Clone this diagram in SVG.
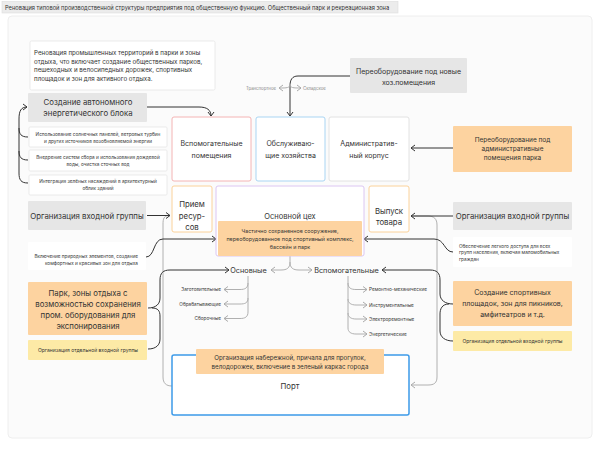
<svg xmlns="http://www.w3.org/2000/svg" width="600" height="452" viewBox="0 0 600 452">
<defs>
<marker id="ad" viewBox="0 0 6 8" refX="5" refY="4" markerWidth="6" markerHeight="8" orient="auto" markerUnits="userSpaceOnUse"><path d="M1,1 L5,4 L1,7" fill="none" stroke="#333" stroke-width="1"/></marker>
<marker id="ag" viewBox="0 0 6 8" refX="5" refY="4" markerWidth="6" markerHeight="8" orient="auto" markerUnits="userSpaceOnUse"><path d="M1,1 L5,4 L1,7" fill="none" stroke="#aaa" stroke-width="1"/></marker>
<style>
text{font-family:Inter,"Noto Sans",sans-serif;fill:#333}
.c{text-anchor:middle}
.e{text-anchor:end}
.gray{fill:#e6e6e6}
.wht{fill:#fff;stroke:#e6e6e6;stroke-width:0.8}
.org{fill:#fdd3a0}
.yel{fill:#fdeaa6}
.dk{fill:none;stroke:#333;stroke-width:1}
.gr{fill:none;stroke:#b0b0b0;stroke-width:1}
.s8{font-size:7.8px}
.s7{font-size:7px}
.s6{font-size:6.2px}
.s5{font-size:5px}
.s45{font-size:4.7px}
</style>
</defs>
<rect x="0" y="0" width="600" height="452" fill="#fff"/>
<rect x="8" y="16" width="584" height="422" rx="4" fill="#fbfbfb" stroke="#eeeeee" stroke-width="1"/>
<g id="title">
<rect x="2" y="1.5" width="396" height="11.5" fill="#ececec" stroke="#dddddd" stroke-width="0.6"/>
<text x="5" y="9.6" style="font-size:5.7px">Реновация типовой производственной структуры предприятия под общественную функцию. Общественный парк и рекреационная зона</text>
</g>

<g id="connectors">
<path class="dk" d="M28,183 C21,183 19,180 19,173 L19,119 C19,111 21,107 27,107" marker-end="url(#ad)"/>
<path class="dk" d="M28,137 C21,137 19,134 19,128"/>
<path class="dk" d="M28,160 C21,160 19,157 19,151"/>
<path class="dk" d="M147,107 L199,107 C207,107 211,110 211,116" marker-end="url(#ad)"/>
<path class="dk" d="M350,76 L298,76 C292,76 290,80 290,86 L290,116" marker-end="url(#ad)"/>
<path class="gr" d="M290,84 C290,88 287,88 279,88" marker-end="url(#ag)"/>
<path class="gr" d="M290,84 C290,88 293,88 301,88" marker-end="url(#ag)"/>
<path class="dk" d="M453,148 L411,148" marker-end="url(#ad)"/>
<path class="gr" d="M172,386 C166,386 163,383 163,377 L163,224 C163,219 164,216 168,215.5"/>
<path class="gr" d="M411,216 L428,216 C434,216 437,219 437,225 L437,377 C437,383 434,385 428,385 L411,385" marker-end="url(#ag)"/>
<path class="dk" d="M147,215.5 L170,215.5" marker-end="url(#ad)"/>
<path class="dk" d="M453,216 L411,216" marker-end="url(#ad)"/>
<path class="dk" d="M146,257 C155,257 153,239 163,239 L216,239" marker-end="url(#ad)"/>
<path class="dk" d="M453,252 C444,252 445,239 434,239 L364,239" marker-end="url(#ad)"/>
<path class="dk" d="M148,308 C156,308 160,304 160,298 L160,280 C160,273 163,270 170,270 L229,270" marker-end="url(#ad)"/>
<path class="dk" d="M148,349 C156,349 160,345 160,339 L160,316 C160,311 158,308 152,308"/>
<path class="dk" d="M453,304 C445,304 440,300 440,294 L440,280 C440,273 437,270 430,270 L382,270" marker-end="url(#ad)"/>
<path class="dk" d="M453,341 C445,341 440,337 440,331 L440,314 C440,309 442,304 449,304"/>
<path class="gr" d="M290,256 L290,262 C290,268 287,270 281,270 L271,270" marker-end="url(#ag)"/>
<path class="gr" d="M290,262 C290,268 293,270 299,270 L312,270" marker-end="url(#ag)"/>
<path class="gr" d="M248,276 L248,312 C248,317 245,318.5 240,318.5 L224,318.5" marker-end="url(#ag)"/>
<path class="gr" d="M248,283 C248,288 245,289.5 240,289.5 L224,289.5" marker-end="url(#ag)"/>
<path class="gr" d="M248,298 C248,303 245,304 240,304 L224,304" marker-end="url(#ag)"/>
<path class="gr" d="M348,276 L348,328 C348,332 351,334 356,334 L367,334" marker-end="url(#ag)"/>
<path class="gr" d="M348,283 C348,288 351,289.5 356,289.5 L367,289.5" marker-end="url(#ag)"/>
<path class="gr" d="M348,299 C348,303 351,305 356,305 L367,305" marker-end="url(#ag)"/>
<path class="gr" d="M348,313 C348,317 351,319 356,319 L367,319" marker-end="url(#ag)"/>
</g>

<g id="intro">
<rect class="wht" x="30" y="41" width="185" height="49" rx="1.5"/>
<text class="s6" x="34" y="55">Реновация промышленных территорий в парки и зоны</text>
<text class="s6" x="34" y="63.5">отдыха, что включает создание общественных парков,</text>
<text class="s6" x="34" y="72">пешеходных и велосипедных дорожек, спортивных</text>
<text class="s6" x="34" y="80.5">площадок и зон для активного отдыха.</text>
</g>
<g id="energy">
<rect class="gray" x="28" y="93" width="119" height="29" rx="1"/>
<text class="c s8" x="88" y="104.5">Создание автономного</text>
<text class="c s8" x="88" y="115.5">энергетического блока</text>
</g>
<g id="e1">
<rect class="wht" x="29" y="127" width="138" height="20" rx="1"/>
<text class="c s45" x="98" y="135.5">Использование солнечных панелей, ветровых турбин</text>
<text class="c s45" x="98" y="142.5">и других источников возобновляемой энергии</text>
</g>
<g id="e2">
<rect class="wht" x="29" y="150" width="138" height="21" rx="1"/>
<text class="c s45" x="98" y="158.5">Внедрение систем сбора и использования дождевой</text>
<text class="c s45" x="98" y="165.5">воды, очистка сточных вод</text>
</g>
<g id="e3">
<rect class="wht" x="29" y="175" width="138" height="20" rx="1"/>
<text class="c s45" x="98" y="183">Интеграция зелёных насаждений в архитектурный</text>
<text class="c s45" x="98" y="190">облик зданий</text>
</g>
<g id="vspom">
<rect x="172" y="117" width="79" height="64" rx="2" fill="#fff" stroke="#f4b4b4" stroke-width="1"/>
<text class="c s7" x="211.5" y="145.5">Вспомогательные</text>
<text class="c s7" x="211.5" y="157.5">помещения</text>
</g>
<g id="obsl">
<rect x="256" y="117" width="69" height="64" rx="2" fill="#fff" stroke="#a9d5f3" stroke-width="1"/>
<text class="c s7" x="290.5" y="145.5">Обслуживаю-</text>
<text class="c s7" x="290.5" y="157.5">щие хозяйства</text>
</g>
<g id="admin">
<rect x="329" y="117" width="80" height="64" rx="2" fill="#fff" stroke="#e2e2e2" stroke-width="1"/>
<text class="c s7" x="369" y="145.5">Административ-</text>
<text class="c s7" x="369" y="157.5">ный корпус</text>
</g>
<g id="pereob-hoz">
<rect class="gray" x="350" y="58" width="117" height="35" rx="1"/>
<text class="c s7" x="408.5" y="73.5">Переоборудование под новые</text>
<text class="c s7" x="408.5" y="84.5">хоз.помещения</text>
</g>
<g id="labels-hoz">
<text class="e" x="276" y="89.5" style="font-size:4.3px;fill:#888">Транспортное</text>
<text x="303" y="89.5" style="font-size:4.3px;fill:#888">Складское</text>
</g>
<g id="pereob-admin">
<rect class="org" x="453" y="126" width="119" height="46" rx="1"/>
<text class="c" x="512.5" y="141.5" style="font-size:6.5px">Переоборудование под</text>
<text class="c" x="512.5" y="150.5" style="font-size:6.5px">административные</text>
<text class="c" x="512.5" y="159.5" style="font-size:6.5px">помещения парка</text>
</g>
<g id="priem">
<rect x="172" y="186" width="40" height="46" rx="2" fill="#fff" stroke="#fbd29a" stroke-width="1"/>
<text class="c s8" x="192" y="207">Прием</text>
<text class="c s8" x="192" y="218.5">ресур-</text>
<text class="c s8" x="192" y="230">сов</text>
</g>
<g id="osnovnoy">
<rect x="216" y="186" width="148" height="70" rx="2" fill="#fff" stroke="#dcc6f2" stroke-width="1"/>
<text class="c" x="290" y="219" style="font-size:7.5px">Основной цех</text>
</g>
<g id="inner">
<rect class="org" x="218" y="221" width="144" height="35" rx="1"/>
<text class="c" x="290" y="232.5" style="font-size:5.4px">Частично сохраненное сооружение,</text>
<text class="c" x="290" y="240.5" style="font-size:5.4px">переоборудованное под спортивный комплекс,</text>
<text class="c" x="290" y="248.5" style="font-size:5.4px">бассейн и парк</text>
</g>
<g id="vypusk">
<rect x="369" y="186" width="40" height="46" rx="2" fill="#fff" stroke="#fbd29a" stroke-width="1"/>
<text class="c s8" x="389" y="213.5">Выпуск</text>
<text class="c s8" x="389" y="225">товара</text>
</g>
<g id="entry-left">
<rect class="gray" x="28" y="201" width="118" height="29" rx="1"/>
<text class="c s8" x="87" y="218.5">Организация входной группы</text>
</g>
<g id="nature">
<rect x="28" y="242" width="118" height="28" rx="1" fill="#fff"/>
<text class="e s45" x="138" y="257.5">Включение природных элементов, создание</text>
<text class="e s45" x="138" y="264.5">комфортных и красивых зон для отдыха</text>
</g>
<g id="entry-right">
<rect class="gray" x="453" y="202" width="119" height="28" rx="1"/>
<text class="c s8" x="512.5" y="219">Организация входной группы</text>
</g>
<g id="access">
<rect x="453" y="237" width="119" height="30" rx="1" fill="#fff"/>
<text class="s45" x="459" y="247.5">Обеспечение легкого доступа для всех</text>
<text class="s45" x="459" y="254">групп населения, включая маломобильных</text>
<text class="s45" x="459" y="260.5">граждан</text>
</g>
<g id="osnovnye">
<text class="c" x="248.5" y="272.7" style="font-size:7.3px">Основные</text>
<text class="e s45" x="221" y="291">Заготовительные</text>
<text class="e s45" x="221" y="305.5">Обрабатывающие</text>
<text class="e s45" x="221" y="320">Сборочные</text>
</g>
<g id="vspomogatelnye">
<text class="c" x="346.5" y="272.7" style="font-size:7.3px">Вспомогательные</text>
<text class="s45" x="369" y="291">Ремонтно-механические</text>
<text class="s45" x="369" y="306.5">Инструментальные</text>
<text class="s45" x="369" y="320.5">Электроремонтные</text>
<text class="s45" x="369" y="335.5">Энергетические</text>
</g>
<g id="park">
<rect class="org" x="28" y="282" width="119" height="53" rx="1"/>
<text class="c s8" x="88" y="295.5">Парк, зоны отдыха с</text>
<text class="c s8" x="88" y="306.5">возможностью сохранения</text>
<text class="c s8" x="88" y="317.5">пром. оборудования для</text>
<text class="c s8" x="88" y="328.5">экспонирования</text>
</g>
<g id="entry-sep-left">
<rect class="yel" x="28" y="340" width="119" height="20" rx="1"/>
<text class="c s5" x="88" y="352">Организация отдельной входной группы</text>
</g>
<g id="sport">
<rect class="org" x="453" y="281" width="119" height="45" rx="1"/>
<text class="c s7" x="512.5" y="295">Создание спортивных</text>
<text class="c s7" x="512.5" y="306">площадок, зон для пикников,</text>
<text class="c s7" x="512.5" y="317">амфитеатров и т.д.</text>
</g>
<g id="entry-sep-right">
<rect class="yel" x="453" y="331" width="119" height="20" rx="1"/>
<text class="c s5" x="512.5" y="343">Организация отдельной входной группы</text>
</g>
<g id="port">
<rect x="172" y="355" width="237" height="60" rx="2" fill="#fff" stroke="#3d9be9" stroke-width="1.5"/>
<text class="c s8" x="290" y="389">Порт</text>
</g>
<g id="embankment">
<rect class="org" x="196" y="349" width="188" height="25" rx="1"/>
<text class="c s6" x="290" y="359.5">Организация набережной, причала для прогулок,</text>
<text class="c s6" x="290" y="368.5">велодорожек, включение в зеленый каркас города</text>
</g>
</svg>
